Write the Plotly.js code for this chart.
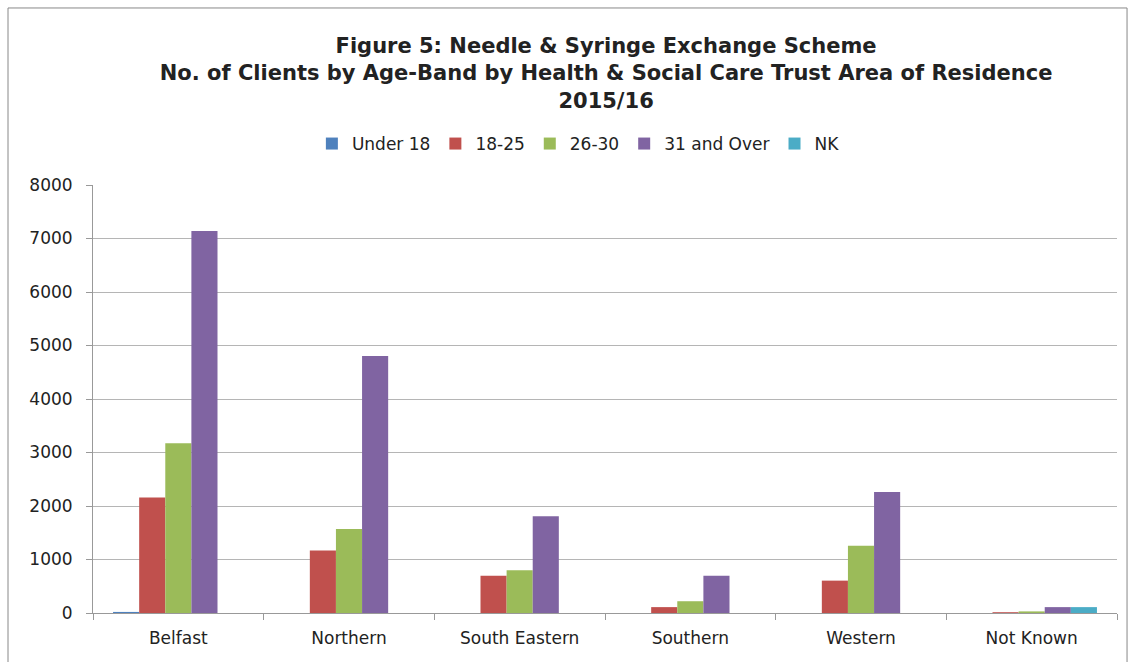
<!DOCTYPE html>
<html><head><meta charset="utf-8">
<script src="https://cdn.plot.ly/plotly-3.0.1.min.js"></script>
<style>html,body{margin:0;padding:0;background:#fff}#chart{width:1135px;height:662px}</style>
</head><body><div id="chart"></div>
<script>
const categories = ["Belfast", "Northern", "South Eastern", "Southern", "Western", "Not Known"];
const seriesNames = ["Under 18", "18-25", "26-30", "31 and Over", "NK"];
const under18 = [20, 0, 0, 0, 0, 0];
const age18to25 = [2160, 1170, 695, 110, 605, 15];
const age26to30 = [3175, 1570, 800, 220, 1255, 30];
const age31plus = [7140, 4805, 1810, 695, 2260, 110];
const nk = [0, 0, 0, 0, 0, 110];
const colors = ["#4F81BD", "#C0504D", "#9BBB59", "#8064A2", "#4BACC6"];
const yTicks = [0, 1000, 2000, 3000, 4000, 5000, 6000, 7000, 8000];

const values = [under18, age18to25, age26to30, age31plus, nk];
const traces = values.map((v, i) => ({
  type: "bar", name: seriesNames[i], x: categories, y: v,
  marker: {color: colors[i]}, hoverinfo: "x+y+name"
}));

const font = "DejaVu Sans, sans-serif";
const layout = {
  width: 1135, height: 662,
  margin: {l: 93, r: 18, t: 185, b: 49},
  paper_bgcolor: "#fff", plot_bgcolor: "#fff",
  barmode: "group", bargap: 0.235, bargroupgap: 0,
  title: {
    text: "<b>Figure 5: Needle &amp; Syringe Exchange Scheme<br>No. of Clients by Age-Band by Health &amp; Social Care Trust Area of Residence<br>2015/16</b>",
    font: {family: font, size: 21, color: "#222"},
    x: 0.534, xanchor: "center", yref: "container", y: 1 - 53/662, yanchor: "top"
  },
  legend: {
    orientation: "h", x: 0.474, xanchor: "center", yref: "container", y: 1 - 126/662, yanchor: "top",
    font: {family: font, size: 17, color: "#222"}, traceorder: "normal",
    itemwidth: 30, itemsizing: "constant"
  },
  xaxis: {
    type: "category", tickson: "boundaries", ticks: "outside", ticklen: 6, tickcolor: "#999",
    showline: true, linecolor: "#999", linewidth: 1, ticklabelstandoff: 10,
    tickfont: {family: font, size: 17, color: "#222"}, fixedrange: true
  },
  yaxis: {
    range: [0, 8000], tickvals: yTicks, ticktext: yTicks.map(String),
    ticks: "outside", ticklen: 6, tickcolor: "#999", ticklabelstandoff: 10,
    showline: true, linecolor: "#999", linewidth: 1,
    showgrid: true, gridcolor: "#b5b5b5", gridwidth: 1, zeroline: false,
    tickfont: {family: font, size: 17, color: "#222"}, fixedrange: true
  },
  shapes: [{
    type: "rect", xref: "paper", yref: "paper",
    x0: -0.083, x1: 1.0098, y0: -0.2, y1: 1.4136,
    line: {color: "#888", width: 1}, fillcolor: "rgba(0,0,0,0)", layer: "below"
  }]
};
Plotly.newPlot("chart", traces, layout, {displayModeBar: false, staticPlot: true});
</script></body></html>
